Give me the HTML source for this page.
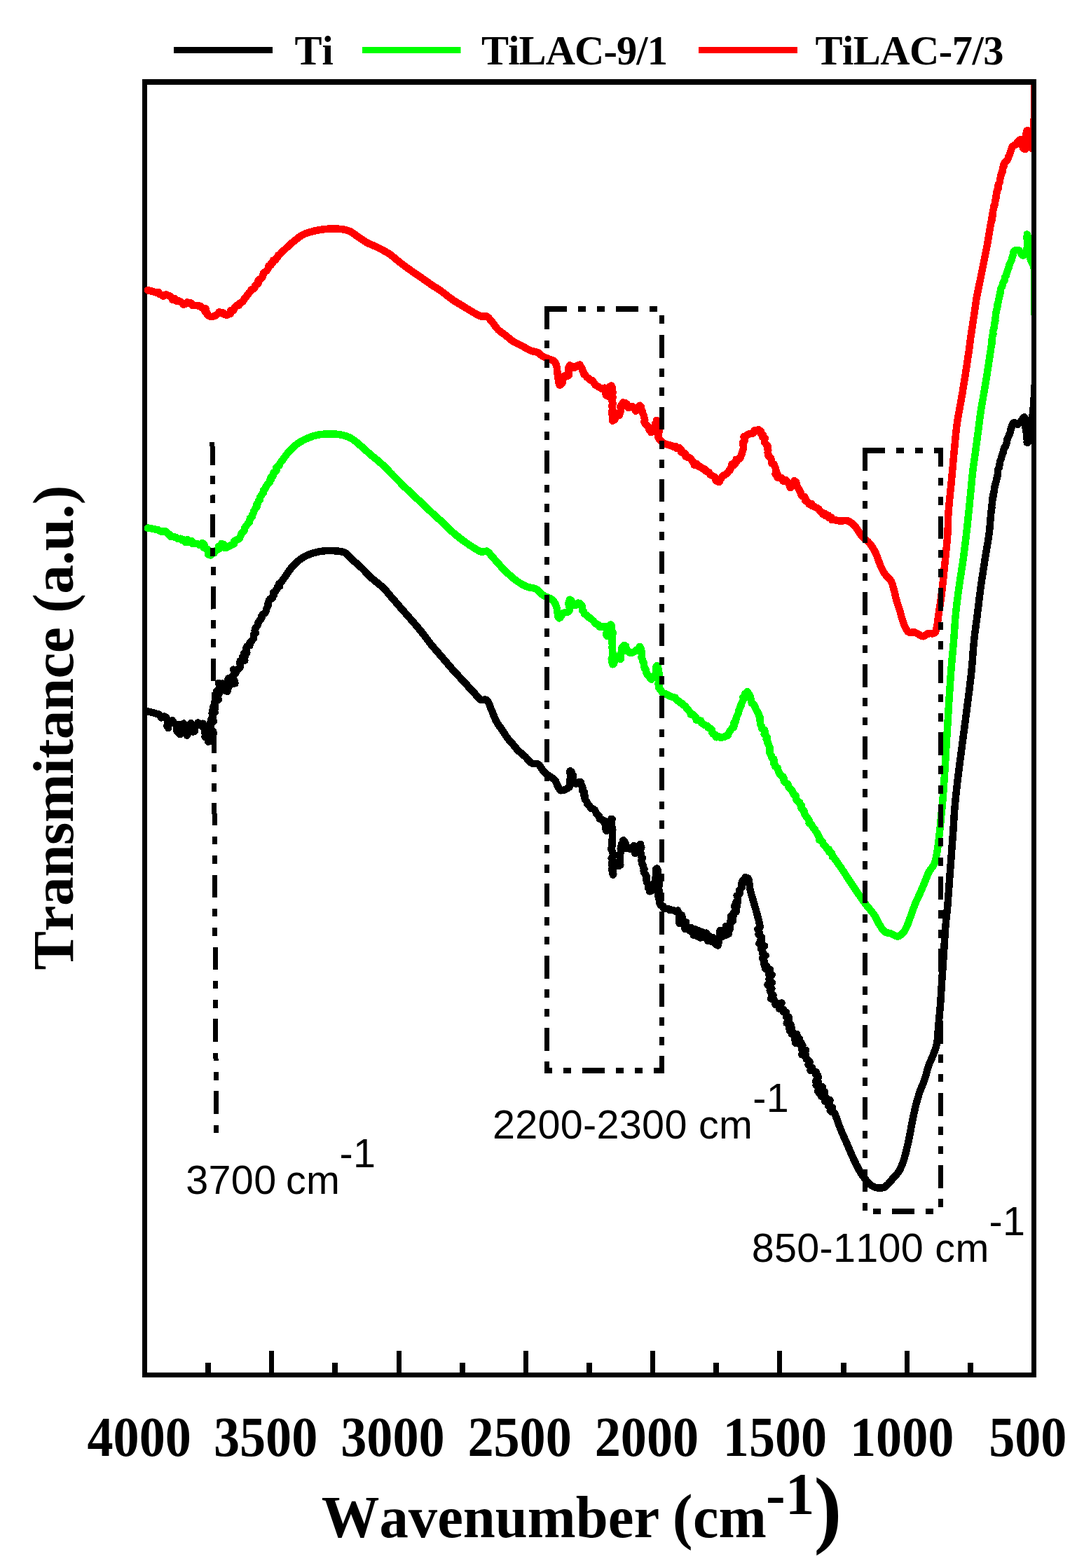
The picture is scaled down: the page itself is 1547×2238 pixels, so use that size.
<!DOCTYPE html>
<html lang="en"><head><meta charset="utf-8"><title>FTIR spectra</title>
<style>
html,body{margin:0;padding:0;background:#fff;}
body{width:1547px;height:2238px;overflow:hidden;}
svg{display:block;}
.serif{font-family:"Liberation Serif","DejaVu Serif",serif;font-weight:bold;fill:#000;font-kerning:none;}
.sans{font-family:"Liberation Sans","DejaVu Sans",sans-serif;fill:#000;font-kerning:none;}
.curve{fill:none;stroke-width:10.5;stroke-linejoin:round;stroke-linecap:round;shape-rendering:crispEdges;}
.dd{shape-rendering:crispEdges;fill:none;stroke:#000;stroke-width:7;stroke-linecap:square;stroke-linejoin:miter;stroke-dasharray:25.7 22.4 4.7 22.8 4.7 22.65;}
</style></head><body>
<svg width="1547" height="2238" viewBox="0 0 1547 2238">
<rect width="1547" height="2238" fill="#fff"/>
<defs><clipPath id="plot"><rect x="200" y="121" width="1279" height="1838"/></clipPath></defs>
<g>
<rect x="248" y="67" width="141" height="9" fill="#000"/>
<text class="serif" x="420.5" y="91.5" font-size="58.5">Ti</text>
<rect x="517" y="67" width="140.5" height="9" fill="#00ff00"/>
<text class="serif" x="687" y="91.5" font-size="58.5" textLength="266" lengthAdjust="spacing">TiLAC-9/1</text>
<rect x="997" y="67" width="141" height="9" fill="#ff0000"/>
<text class="serif" x="1163.5" y="91.5" font-size="58.5" textLength="269" lengthAdjust="spacing">TiLAC-7/3</text>
</g>
<g fill="#000" shape-rendering="crispEdges"><rect x="203" y="113" width="7" height="1853"/><rect x="203" y="1959" width="1276" height="7"/></g>
<g clip-path="url(#plot)">
<polyline class="curve" stroke="#000" points="210.8,1015.4 211.9,1015.6 214.5,1016.2 217.8,1017.0 220.7,1017.8 223.3,1018.7 226.1,1019.4 228.5,1021.1 230.2,1024.3 234.7,1022.5 237.5,1024.3 237.9,1026.7 240.8,1029.6 238.9,1033.2 238.5,1036.1 240.2,1039.1 240.0,1034.1 243.2,1031.9 245.8,1028.2 249.2,1033.0 252.1,1034.1 257.0,1034.9 251.9,1040.0 252.6,1043.7 255.2,1046.5 256.9,1048.2 255.8,1045.3 255.9,1042.1 260.1,1039.2 258.5,1034.8 262.1,1032.6 264.6,1035.3 267.0,1038.3 265.4,1042.9 266.5,1046.0 266.9,1049.7 268.2,1046.5 269.8,1044.1 269.8,1040.4 271.6,1037.3 271.3,1034.3 272.5,1031.9 270.6,1035.9 271.5,1038.4 273.5,1041.6 275.4,1044.4 277.6,1043.8 277.0,1043.1 278.1,1040.5 277.7,1036.4 282.9,1034.6 282.4,1031.4 285.5,1033.9 289.6,1032.7 288.1,1036.5 289.7,1038.0 295.7,1038.6 295.4,1041.9 291.9,1045.7 295.2,1047.9 292.4,1051.6 296.5,1054.3 298.9,1056.0 297.2,1058.7 300.3,1057.4 299.5,1052.1 298.8,1050.3 300.7,1048.6 305.0,1046.7 303.9,1043.8 300.0,1040.8 300.9,1037.9 300.1,1034.9 300.1,1032.0 305.0,1029.6 301.4,1026.6 304.2,1024.3 303.9,1021.5 302.8,1018.6 306.7,1016.7 303.5,1013.4 307.2,1011.5 304.4,1008.3 306.8,1006.1 306.0,1003.2 306.8,1000.6 311.7,998.6 311.1,995.7 308.4,992.5 312.5,990.6 308.8,987.3 310.5,985.3 314.3,982.7 313.9,979.1 311.8,974.9 314.8,978.2 317.9,975.5 318.9,978.9 317.2,983.7 321.0,984.7 324.5,986.9 322.1,986.2 322.6,984.2 325.9,981.2 323.9,977.4 326.3,973.9 325.1,970.5 325.9,968.3 325.7,970.2 327.9,968.9 328.8,972.7 328.6,977.2 332.7,975.8 330.4,976.2 335.4,975.4 335.1,972.5 331.7,969.0 331.5,965.5 335.3,962.3 337.0,959.4 333.0,955.7 337.5,956.8 339.8,955.4 342.6,952.5 343.1,949.8 342.2,946.6 342.7,943.7 349.3,942.6 345.8,938.3 349.6,936.8 347.9,933.1 352.3,931.8 352.0,928.7 351.4,925.4 352.4,922.3 356.3,921.3 356.3,917.8 358.3,915.3 360.2,913.5 361.9,911.2 362.1,908.4 362.1,905.3 364.8,903.2 363.7,899.8 364.2,897.0 366.1,894.6 367.8,892.2 368.1,889.1 369.7,886.8 371.5,884.5 373.4,882.2 373.5,879.0 375.4,876.7 378.1,874.8 379.7,872.3 380.1,869.3 381.5,866.8 382.5,864.0 382.6,860.8 383.6,858.0 384.8,855.4 388.5,854.1 389.2,851.3 391.2,849.4 390.0,845.9 392.8,844.7 393.7,842.3 395.7,840.6 396.0,837.7 399.1,836.7 398.3,833.0 400.8,831.6 402.3,829.4 403.9,827.3 405.4,825.1 406.9,823.0 408.3,820.9 409.8,818.8 411.2,816.7 412.6,814.7 414.1,812.7 415.6,810.7 417.2,808.8 419.2,806.7 421.3,804.6 423.4,802.5 425.6,800.6 427.8,798.8 430.1,797.2 432.6,795.6 435.1,794.2 437.7,792.9 440.4,791.8 443.1,790.7 445.6,789.8 448.1,789.1 450.7,788.4 453.3,787.8 456.0,787.2 458.6,786.8 461.2,786.5 463.7,786.2 466.3,786.1 468.8,786.0 471.4,786.0 474.1,786.1 476.7,786.2 479.4,786.4 482.1,786.6 484.8,786.9 487.5,787.4 490.0,788.0 492.2,788.9 494.6,790.4 496.6,792.2 498.5,794.3 500.4,796.4 502.5,798.5 504.6,800.4 506.7,802.2 508.9,804.1 511.0,806.0 513.3,808.0 515.5,810.1 517.4,811.9 519.3,813.8 521.2,815.8 523.1,817.8 525.1,819.8 527.1,821.8 529.0,823.7 531.0,825.6 532.9,827.3 534.9,828.9 536.8,830.5 538.8,832.0 540.7,833.6 542.7,835.2 544.6,836.8 546.5,838.6 548.3,840.4 550.0,842.2 551.7,844.1 553.4,846.1 555.1,848.1 556.8,850.1 558.5,852.1 560.2,854.2 562.0,856.2 563.8,858.2 565.5,860.2 567.3,862.2 569.1,864.3 570.9,866.4 572.7,868.5 574.6,870.5 576.4,872.7 578.3,874.8 580.1,876.9 581.7,878.8 583.4,880.7 585.1,882.6 586.8,884.5 588.5,886.5 590.2,888.4 591.9,890.4 593.6,892.3 595.2,894.3 596.8,896.2 598.4,898.1 600.0,900.0 601.7,902.1 603.3,904.1 604.8,906.1 606.4,908.2 607.9,910.2 609.4,912.2 610.9,914.2 612.4,916.2 613.9,918.2 615.5,920.1 617.2,922.2 618.9,924.2 620.6,926.2 622.4,928.2 624.1,930.2 625.8,932.2 627.5,934.2 629.3,936.2 631.0,938.2 632.7,940.2 634.4,942.2 636.2,944.3 637.9,946.3 639.6,948.3 641.3,950.3 643.0,952.3 644.8,954.3 646.5,956.3 648.2,958.2 649.9,960.1 651.7,962.0 653.4,963.8 655.2,965.7 656.9,967.5 658.6,969.4 660.4,971.2 662.1,973.1 663.8,975.0 665.6,976.9 667.4,978.9 669.2,980.9 671.0,982.8 672.7,984.7 674.4,986.5 676.1,988.3 677.6,989.9 679.5,992.1 681.3,994.2 683.0,996.2 684.8,997.8 686.6,998.9 689.2,999.1 692.0,998.5 694.4,998.9 696.0,1000.5 697.3,1002.9 698.5,1005.8 699.6,1008.9 700.8,1011.9 701.9,1014.4 703.0,1017.0 704.0,1019.7 705.1,1022.4 706.2,1025.1 707.4,1027.6 708.6,1030.0 710.1,1032.5 711.6,1034.9 713.2,1037.1 714.8,1039.3 716.4,1041.6 717.9,1043.9 719.5,1046.3 721.0,1048.7 722.5,1051.0 724.1,1053.2 726.0,1055.6 728.0,1057.9 729.9,1060.1 731.9,1062.3 733.8,1064.6 735.6,1066.8 737.5,1069.1 739.6,1071.3 741.6,1073.2 743.7,1075.0 745.8,1076.8 748.0,1078.6 750.0,1080.4 751.8,1082.3 753.6,1084.4 755.3,1086.4 757.1,1088.1 759.0,1089.4 762.0,1090.0 765.2,1090.0 768.1,1090.7 769.8,1092.2 771.4,1094.3 772.8,1096.7 774.2,1099.1 775.8,1101.1 777.7,1102.9 779.6,1104.5 781.6,1106.0 783.6,1107.5 786.3,1109.2 788.9,1110.7 791.3,1112.7 792.9,1115.0 794.1,1117.8 795.3,1120.6 796.5,1123.0 798.3,1126.2 800.4,1128.3 803.8,1128.0 807.3,1126.5 810.0,1125.2 812.4,1123.3 813.4,1121.4 814.1,1118.7 812.8,1115.3 813.7,1111.8 814.2,1108.3 814.1,1105.0 813.0,1102.3 814.1,1100.5 813.4,1100.5 815.3,1101.5 816.9,1105.1 818.1,1107.4 817.8,1110.6 818.0,1113.8 819.8,1116.0 819.7,1118.2 822.6,1118.6 825.4,1116.7 827.4,1115.9 829.0,1116.5 829.2,1119.1 830.4,1121.8 831.5,1124.9 831.2,1128.3 833.8,1130.5 832.8,1133.9 835.2,1136.4 834.4,1139.5 835.6,1142.1 837.5,1144.1 838.1,1147.1 840.3,1149.0 841.9,1151.3 843.2,1153.9 846.4,1154.5 848.8,1156.0 850.2,1158.6 851.1,1161.4 853.7,1163.2 855.3,1165.4 855.7,1168.7 859.5,1170.1 862.8,1171.7 862.6,1174.6 864.5,1177.9 863.8,1181.6 865.3,1184.3 865.3,1185.8 869.8,1184.0 871.2,1181.2 872.0,1177.4 871.3,1173.3 872.3,1170.4 872.2,1168.9 873.7,1169.2 873.0,1170.4 872.3,1171.9 872.4,1173.7 872.8,1175.9 872.2,1178.5 874.0,1181.3 874.3,1184.3 873.6,1187.5 874.1,1190.8 874.2,1194.2 873.7,1197.5 873.2,1200.7 873.5,1203.8 874.0,1206.7 872.7,1209.3 872.4,1212.1 873.8,1215.1 874.8,1218.3 874.9,1221.7 872.7,1225.1 874.8,1228.6 873.1,1231.9 873.4,1235.1 874.1,1238.1 872.9,1240.9 875.0,1243.2 874.8,1245.2 874.1,1246.8 875.3,1247.4 875.0,1248.7 874.2,1246.9 874.4,1244.2 874.7,1240.6 876.8,1237.2 877.2,1234.1 878.3,1232.9 880.7,1234.2 883.3,1235.9 885.3,1234.6 885.1,1232.3 884.2,1229.6 885.1,1226.7 884.5,1223.4 884.2,1220.1 885.6,1217.1 886.6,1214.6 885.7,1211.3 886.5,1207.9 887.3,1204.6 888.8,1201.9 889.1,1199.8 889.8,1199.2 890.4,1200.4 892.4,1203.0 892.7,1207.1 893.9,1210.7 896.6,1210.8 899.5,1212.0 902.1,1209.3 904.5,1207.1 905.4,1210.6 905.5,1214.9 906.3,1218.0 907.6,1215.5 909.4,1212.5 911.6,1208.9 912.8,1205.7 913.5,1205.2 913.9,1204.8 913.9,1206.8 915.3,1209.3 914.2,1212.6 914.2,1216.0 915.0,1219.3 915.1,1222.3 916.9,1224.6 915.5,1227.5 915.8,1230.2 916.3,1232.9 917.9,1235.3 917.8,1238.1 919.5,1240.4 918.6,1243.1 919.3,1245.8 921.2,1248.2 922.5,1250.6 922.2,1253.3 922.6,1255.9 922.8,1258.6 924.3,1261.1 926.3,1263.9 925.3,1267.6 928.0,1269.6 927.2,1272.3 928.7,1271.7 929.2,1271.7 931.2,1270.3 930.5,1267.1 931.3,1264.1 933.1,1261.2 934.4,1258.5 935.3,1255.8 935.6,1252.4 936.8,1249.1 936.2,1245.6 937.9,1243.1 936.2,1240.6 937.6,1239.6 938.0,1240.9 939.0,1242.4 938.3,1245.0 938.8,1247.9 939.4,1251.2 938.9,1254.7 939.9,1258.0 940.8,1261.0 940.7,1263.5 939.6,1266.2 939.4,1269.0 941.1,1271.9 939.4,1274.8 939.0,1277.7 940.2,1280.5 940.2,1283.1 941.4,1285.4 940.9,1287.6 941.6,1289.4 943.1,1292.4 946.3,1293.3 947.5,1297.0 950.4,1296.9 953.1,1297.1 955.5,1298.9 958.3,1298.7 961.1,1299.2 963.6,1300.7 967.1,1299.6 968.7,1303.2 969.4,1317.7 973.0,1306.3 975.0,1316.6 974.3,1312.6 976.6,1320.8 978.9,1316.1 977.6,1325.8 979.8,1321.3 983.9,1328.3 986.6,1324.1 989.7,1334.5 992.7,1326.5 995.2,1336.5 997.3,1328.5 999.7,1338.7 1002.5,1330.3 1005.0,1337.9 1008.0,1331.7 1010.0,1342.8 1012.3,1335.8 1014.7,1343.4 1018.1,1338.5 1021.2,1347.7 1024.1,1339.4 1024.6,1349.5 1027.7,1334.5 1026.1,1341.5 1027.6,1327.8 1031.1,1336.7 1033.8,1327.0 1035.8,1334.8 1036.1,1321.8 1039.5,1333.1 1041.7,1318.9 1041.5,1326.6 1042.6,1313.7 1042.7,1316.0 1043.4,1307.2 1045.8,1314.7 1046.7,1302.8 1046.2,1306.9 1049.3,1299.2 1050.4,1301.6 1048.2,1293.1 1050.3,1300.7 1050.6,1287.2 1052.0,1292.9 1053.0,1281.4 1051.7,1278.3 1054.8,1276.7 1056.2,1274.1 1055.0,1270.7 1056.9,1268.6 1058.8,1266.5 1058.5,1263.3 1058.6,1260.2 1059.5,1257.3 1061.8,1255.8 1063.6,1252.1 1067.0,1253.2 1067.9,1254.3 1068.6,1256.3 1069.1,1258.9 1069.5,1262.0 1069.9,1265.3 1070.3,1268.5 1070.9,1271.3 1071.6,1273.9 1072.3,1276.5 1073.0,1279.1 1073.8,1281.7 1074.6,1284.2 1075.4,1286.8 1076.1,1289.4 1076.8,1292.0 1077.6,1294.6 1078.4,1297.1 1079.1,1299.7 1079.8,1302.3 1080.5,1304.9 1081.2,1307.5 1081.8,1310.1 1082.5,1312.7 1083.1,1315.3 1083.7,1317.9 1084.2,1320.5 1084.7,1323.1 1081.5,1326.1 1082.7,1328.5 1083.7,1330.8 1082.5,1333.4 1084.7,1335.7 1087.0,1338.0 1085.6,1340.9 1087.0,1343.2 1083.3,1346.8 1085.6,1349.0 1091.2,1350.3 1086.1,1354.4 1088.2,1356.6 1088.5,1359.3 1088.5,1361.7 1092.6,1363.8 1088.4,1366.9 1088.8,1369.5 1090.7,1372.0 1090.4,1374.7 1090.7,1377.4 1094.4,1379.3 1092.2,1382.7 1098.8,1383.6 1097.2,1386.8 1096.9,1389.7 1101.7,1391.1 1099.5,1394.6 1097.5,1397.8 1098.1,1400.3 1101.9,1402.6 1095.5,1405.7 1098.2,1408.2 1101.4,1410.7 1098.8,1413.6 1100.1,1416.1 1101.1,1418.4 1103.4,1420.2 1100.0,1425.5 1104.3,1426.0 1105.6,1428.5 1106.8,1430.9 1106.6,1434.1 1115.5,1431.6 1112.2,1436.8 1112.4,1439.9 1117.6,1440.6 1117.6,1443.8 1121.8,1444.8 1121.9,1447.9 1121.9,1450.9 1125.5,1451.6 1125.9,1454.6 1122.7,1460.4 1126.9,1460.7 1128.6,1462.6 1125.9,1466.6 1130.2,1467.6 1127.1,1471.1 1130.9,1472.8 1130.0,1475.9 1137.3,1476.2 1133.9,1480.3 1133.9,1483.3 1140.8,1482.1 1135.3,1488.6 1142.7,1487.1 1141.7,1490.8 1145.4,1491.7 1144.1,1495.7 1144.5,1498.8 1150.3,1499.1 1144.3,1505.3 1149.9,1505.8 1150.3,1508.9 1150.8,1511.7 1153.9,1513.4 1155.7,1515.8 1153.6,1519.7 1155.5,1522.0 1159.0,1523.6 1156.5,1527.7 1161.3,1528.7 1164.8,1530.1 1164.2,1533.6 1167.2,1535.3 1167.6,1538.4 1163.9,1543.4 1168.0,1544.5 1164.8,1548.9 1167.1,1551.1 1174.1,1551.4 1167.2,1557.4 1168.8,1559.9 1177.2,1558.5 1172.3,1565.1 1177.6,1564.7 1179.1,1567.2 1177.4,1572.2 1184.4,1570.2 1183.9,1574.1 1181.8,1578.2 1184.7,1579.5 1188.0,1580.9 1184.7,1585.2 1187.1,1587.0 1190.8,1588.4 1191.9,1591.0 1192.9,1593.5 1193.9,1596.0 1194.8,1598.6 1195.7,1601.2 1196.7,1603.9 1197.6,1606.5 1198.6,1609.1 1199.6,1611.7 1200.6,1614.0 1201.5,1616.3 1202.5,1618.6 1203.6,1620.9 1204.6,1623.2 1205.6,1625.5 1206.7,1627.8 1207.7,1630.1 1208.7,1632.4 1209.7,1634.7 1210.7,1637.0 1211.7,1639.4 1212.7,1641.7 1213.7,1644.0 1214.7,1646.3 1215.7,1648.6 1216.7,1650.9 1217.7,1653.1 1218.8,1655.5 1219.9,1657.8 1221.0,1660.2 1222.1,1662.5 1223.3,1664.7 1224.4,1667.0 1225.6,1669.1 1226.8,1671.2 1228.2,1673.6 1229.7,1675.9 1231.2,1678.1 1232.7,1680.2 1234.3,1682.2 1235.8,1684.1 1237.7,1686.3 1239.6,1688.4 1241.6,1690.3 1243.6,1691.9 1246.1,1693.4 1248.6,1694.5 1251.3,1695.2 1254.3,1695.6 1257.5,1695.7 1260.4,1695.2 1262.7,1694.1 1264.8,1692.5 1266.9,1690.6 1268.8,1688.6 1270.8,1686.3 1272.7,1683.9 1274.6,1681.5 1276.6,1679.3 1278.7,1677.1 1280.6,1674.9 1282.4,1672.5 1283.9,1670.1 1285.2,1667.6 1286.3,1664.9 1287.5,1662.1 1288.3,1660.0 1289.1,1657.7 1289.8,1655.4 1290.6,1652.9 1291.3,1650.4 1292.0,1647.9 1292.7,1645.3 1293.3,1642.9 1293.9,1640.4 1294.5,1637.8 1295.1,1635.2 1295.7,1632.5 1296.3,1629.9 1296.8,1627.2 1297.4,1624.6 1297.9,1622.1 1298.4,1619.5 1298.9,1616.9 1299.4,1614.3 1299.9,1611.8 1300.3,1609.2 1300.8,1606.6 1301.3,1604.0 1301.8,1601.4 1302.3,1598.9 1302.9,1596.3 1303.4,1593.6 1304.0,1591.0 1304.5,1588.3 1305.1,1585.7 1305.7,1583.1 1306.3,1580.6 1306.9,1578.1 1307.6,1575.4 1308.3,1572.8 1309.0,1570.2 1309.7,1567.7 1310.5,1565.2 1311.2,1562.6 1312.1,1560.0 1313.0,1557.5 1313.9,1555.0 1315.0,1552.4 1316.0,1549.9 1317.1,1547.4 1318.1,1544.8 1319.0,1542.3 1319.9,1539.8 1320.7,1537.2 1321.5,1534.5 1322.1,1531.9 1322.8,1529.3 1323.5,1526.7 1324.2,1524.2 1325.0,1521.7 1326.0,1519.0 1327.1,1516.4 1328.2,1513.9 1329.4,1511.3 1330.5,1508.8 1331.5,1506.2 1332.5,1503.7 1333.4,1501.2 1334.4,1498.7 1335.2,1496.2 1336.0,1493.5 1336.7,1490.7 1337.1,1488.4 1337.5,1486.0 1337.8,1483.5 1338.0,1480.9 1338.2,1478.3 1338.4,1475.6 1338.6,1472.9 1338.8,1470.2 1339.0,1467.5 1339.2,1464.8 1339.4,1462.3 1339.7,1459.8 1339.9,1457.3 1340.2,1454.8 1340.4,1452.2 1340.6,1449.7 1340.9,1447.1 1341.1,1444.5 1341.3,1441.9 1341.6,1439.2 1341.8,1436.4 1342.0,1434.0 1342.2,1431.5 1342.4,1429.0 1342.5,1426.5 1342.7,1423.9 1342.9,1421.3 1343.0,1418.7 1343.2,1416.1 1343.4,1413.4 1343.6,1410.8 1343.7,1408.1 1343.9,1405.5 1344.1,1402.8 1344.2,1400.2 1344.4,1397.6 1344.6,1395.0 1344.7,1392.4 1344.9,1389.8 1345.1,1387.3 1345.3,1384.7 1345.4,1382.1 1345.6,1379.5 1345.8,1376.9 1346.0,1374.3 1346.1,1371.7 1346.3,1369.1 1346.5,1366.6 1346.7,1364.0 1346.8,1361.4 1347.0,1358.8 1347.2,1356.2 1347.3,1353.6 1347.5,1350.9 1347.7,1348.2 1347.8,1345.5 1348.0,1342.9 1348.2,1340.2 1348.3,1337.5 1348.5,1334.9 1348.7,1332.3 1348.9,1329.7 1349.0,1327.2 1349.2,1324.7 1349.4,1322.3 1349.6,1320.0 1349.8,1317.3 1350.1,1314.8 1350.3,1312.4 1350.6,1310.1 1350.8,1307.8 1351.1,1305.4 1351.3,1303.1 1351.6,1300.6 1351.8,1297.9 1352.1,1295.1 1352.3,1292.9 1352.5,1290.7 1352.7,1288.4 1352.9,1286.0 1353.0,1283.5 1353.2,1281.0 1353.4,1278.4 1353.6,1275.8 1353.8,1273.1 1354.0,1270.4 1354.2,1267.7 1354.4,1265.0 1354.6,1262.2 1354.8,1259.5 1355.0,1256.8 1355.2,1254.0 1355.4,1251.3 1355.6,1248.7 1355.8,1246.0 1356.0,1243.4 1356.2,1240.8 1356.4,1238.2 1356.6,1235.6 1356.8,1233.1 1357.0,1230.5 1357.2,1227.9 1357.4,1225.3 1357.6,1222.7 1357.8,1220.1 1358.0,1217.6 1358.2,1215.0 1358.3,1212.4 1358.5,1209.8 1358.7,1207.2 1358.9,1204.6 1359.1,1202.0 1359.3,1199.5 1359.5,1196.9 1359.7,1194.3 1359.9,1191.7 1360.1,1189.2 1360.3,1186.7 1360.4,1184.2 1360.6,1181.9 1360.7,1179.5 1360.9,1177.2 1361.0,1174.8 1361.2,1172.5 1361.3,1170.2 1361.4,1167.8 1361.6,1165.4 1361.8,1162.9 1362.0,1160.4 1362.1,1157.8 1362.3,1155.1 1362.6,1152.3 1362.8,1149.4 1363.1,1146.4 1363.4,1143.3 1363.7,1140.0 1363.9,1138.2 1364.1,1136.4 1364.3,1134.5 1364.5,1132.5 1364.7,1130.5 1364.9,1128.4 1365.2,1126.3 1365.4,1124.1 1365.7,1121.9 1366.0,1119.6 1366.2,1117.3 1366.5,1114.9 1366.8,1112.5 1367.1,1110.0 1367.4,1107.5 1367.7,1105.0 1368.1,1102.4 1368.4,1099.8 1368.7,1097.2 1369.1,1094.5 1369.4,1091.8 1369.7,1089.1 1370.1,1086.4 1370.4,1083.6 1370.8,1080.8 1371.2,1078.0 1371.5,1075.2 1371.9,1072.3 1372.3,1069.5 1372.7,1066.6 1373.0,1063.7 1373.4,1060.9 1373.8,1058.0 1374.2,1055.1 1374.6,1052.2 1374.9,1049.3 1375.3,1046.4 1375.7,1043.5 1376.1,1040.6 1376.5,1037.7 1376.8,1034.9 1377.2,1032.0 1377.6,1029.1 1378.0,1026.3 1378.3,1023.5 1378.7,1020.7 1379.1,1017.9 1379.4,1015.1 1379.8,1012.4 1380.1,1009.7 1380.5,1007.0 1380.8,1004.3 1381.2,1001.7 1381.5,999.1 1381.8,996.5 1382.1,994.0 1382.5,991.5 1382.8,989.1 1383.1,986.7 1383.4,984.3 1383.7,982.0 1383.9,979.7 1384.2,977.5 1384.5,975.3 1384.7,973.2 1385.0,971.1 1385.2,969.1 1385.4,967.2 1385.6,965.3 1385.8,963.5 1386.0,961.7 1386.2,960.0 1386.5,956.8 1386.8,953.7 1387.1,950.8 1387.3,948.0 1387.6,945.3 1387.8,942.7 1388.0,940.2 1388.1,937.8 1388.3,935.5 1388.5,933.2 1388.6,930.9 1388.8,928.7 1389.0,926.5 1389.1,924.3 1389.3,922.0 1389.5,919.8 1389.8,917.5 1390.0,915.1 1390.3,912.4 1390.6,909.8 1390.9,907.2 1391.2,904.6 1391.5,902.0 1391.9,899.4 1392.2,896.8 1392.5,894.3 1392.9,891.7 1393.2,889.2 1393.6,886.6 1393.9,884.1 1394.2,881.5 1394.6,879.0 1394.9,876.4 1395.2,873.8 1395.5,871.2 1395.8,868.6 1396.2,866.1 1396.5,863.5 1396.8,860.9 1397.1,858.3 1397.4,855.7 1397.7,853.1 1398.0,850.5 1398.3,847.9 1398.7,845.4 1399.0,842.8 1399.3,840.2 1399.7,837.6 1400.1,835.0 1400.4,832.4 1400.8,829.8 1401.2,827.2 1401.6,824.7 1402.0,822.1 1402.4,819.5 1402.8,816.9 1403.2,814.3 1403.6,811.7 1404.0,809.1 1404.4,806.6 1404.8,804.0 1405.2,801.4 1405.6,798.8 1406.0,796.2 1406.4,793.6 1406.9,790.9 1407.3,788.3 1407.8,785.6 1408.2,783.0 1408.7,780.3 1409.1,777.7 1409.6,775.0 1410.0,772.4 1410.4,769.9 1410.8,767.3 1411.1,764.8 1411.5,762.4 1411.8,760.0 1412.1,757.1 1412.4,754.3 1412.7,751.5 1412.9,748.8 1413.1,746.1 1413.3,743.5 1413.5,740.8 1413.8,738.1 1414.0,735.4 1414.3,732.7 1414.6,730.1 1414.9,727.4 1415.4,724.7 1415.1,721.9 1416.1,719.2 1416.2,716.5 1416.3,713.7 1416.5,711.1 1417.5,708.5 1417.4,706.0 1418.1,703.6 1418.9,700.7 1419.2,697.8 1419.5,694.9 1420.4,692.3 1420.8,689.6 1421.8,687.0 1422.0,684.2 1423.1,681.5 1423.6,678.7 1423.9,675.9 1423.8,673.0 1424.2,670.2 1425.7,667.6 1426.2,664.9 1426.7,662.3 1427.0,659.6 1427.6,657.1 1428.8,654.7 1429.4,652.2 1430.2,649.8 1431.0,647.4 1432.0,644.7 1432.3,641.7 1433.4,639.0 1435.2,636.7 1436.1,634.0 1437.0,631.2 1437.1,628.1 1438.1,625.4 1439.3,622.8 1440.4,620.2 1441.6,617.2 1442.0,613.9 1443.4,611.2 1443.8,608.4 1445.2,604.8 1447.3,603.0 1449.5,604.2 1452.1,605.9 1454.0,604.6 1456.1,602.8 1457.6,600.6 1459.9,597.1 1461.9,595.3 1462.1,596.2 1463.4,598.4 1463.6,601.6 1463.0,605.3 1463.6,608.6 1463.7,611.2 1464.7,614.2 1464.7,617.6 1465.3,621.1 1464.9,624.4 1465.8,627.3 1465.8,629.8 1465.7,631.5 1466.6,631.7 1466.9,631.4 1467.3,629.9 1467.7,627.6 1467.3,624.7 1467.3,621.4 1467.2,617.7 1468.3,614.1 1467.6,610.4 1467.8,607.0 1468.8,604.1 1469.1,601.6 1469.8,600.1 1472.5,597.0 1472.9,595.7 1473.4,593.8 1473.8,591.5 1474.1,588.7 1474.4,585.7 1474.7,582.4 1475.0,578.9 1475.3,575.3 1475.5,571.7 1475.7,568.2 1475.9,564.8 1476.0,561.6 1476.1,558.7 1476.2,556.1 1476.3,554.0 1476.4,552.4 1476.4,551.4 1476.4,551.0"/>
<polyline class="curve" stroke="#00ff00" points="210.8,753.6 211.9,753.7 214.4,754.1 217.7,754.7 220.7,755.3 223.2,755.9 226.0,756.5 228.4,758.1 231.0,759.0 234.3,757.8 237.4,758.8 239.1,761.7 241.8,762.7 243.5,765.8 246.3,766.1 249.1,766.5 251.6,767.2 254.0,769.1 257.6,768.7 259.6,771.1 262.2,770.3 264.5,773.8 267.5,770.2 269.4,773.9 273.7,772.1 275.5,776.1 279.1,775.8 282.0,776.3 285.0,778.0 288.7,775.0 291.5,777.1 291.2,782.0 294.4,783.0 297.9,785.5 296.8,791.0 300.3,792.5 303.1,789.0 305.4,789.3 306.7,786.5 309.3,785.0 312.0,783.8 311.9,780.2 315.3,779.5 316.3,775.8 319.6,777.4 320.9,781.9 324.0,781.3 326.5,779.7 329.5,778.2 332.0,777.2 334.1,776.1 333.8,772.8 337.9,770.5 340.1,769.6 342.0,767.9 343.3,764.9 344.3,761.9 345.9,760.2 347.9,758.6 349.2,756.4 349.3,753.5 350.8,751.3 352.3,749.2 353.9,747.1 355.9,745.1 356.5,742.4 356.8,739.5 359.7,737.9 360.1,735.0 361.5,732.8 362.0,730.1 363.5,727.9 364.5,725.4 366.5,723.4 366.1,720.3 368.2,718.4 368.7,715.3 371.1,713.3 370.9,710.0 372.7,707.6 374.2,705.2 376.1,703.0 376.1,699.9 378.2,698.0 379.0,695.4 380.4,693.2 382.2,691.0 384.6,689.1 384.8,686.4 387.0,684.7 386.6,681.5 389.5,680.1 389.6,677.1 390.6,674.6 393.1,673.0 394.7,671.0 394.3,667.6 396.3,665.6 398.8,664.0 399.5,661.2 401.3,659.2 402.8,657.1 404.3,655.0 406.0,652.7 407.7,650.5 409.3,648.3 411.1,646.1 412.8,644.1 414.6,642.1 416.6,640.1 418.6,638.2 420.6,636.4 422.8,634.6 425.0,633.0 427.4,631.4 430.0,629.9 432.6,628.5 435.3,627.2 437.9,626.0 440.4,624.9 443.0,623.9 445.6,622.9 448.2,622.1 450.8,621.4 453.3,620.8 455.9,620.4 458.4,620.1 461.0,619.8 463.7,619.6 466.2,619.5 468.8,619.4 471.4,619.3 474.1,619.3 476.7,619.4 479.2,619.6 481.9,619.9 484.6,620.2 487.2,620.7 489.7,621.2 492.2,621.9 494.9,622.8 497.4,623.8 499.9,625.0 502.5,626.5 504.6,627.9 506.8,629.5 509.0,631.3 511.2,633.2 513.3,635.1 515.5,636.9 517.7,638.8 519.8,640.7 521.9,642.6 524.0,644.6 526.2,646.5 528.4,648.5 530.3,650.1 532.1,651.6 534.1,653.2 536.0,654.7 538.0,656.3 539.9,658.0 541.9,659.6 543.9,661.4 545.7,663.1 547.5,664.8 549.3,666.6 551.1,668.4 552.9,670.2 554.7,672.1 556.5,674.0 558.4,675.8 560.2,677.7 562.0,679.5 563.8,681.3 565.6,683.1 567.4,684.9 569.2,686.7 571.0,688.5 572.8,690.4 574.6,692.2 576.4,694.0 578.2,695.8 580.1,697.6 582.1,699.5 584.0,701.4 586.1,703.3 588.1,705.2 590.1,707.1 592.2,709.0 594.2,710.9 596.2,712.7 598.1,714.5 600.0,716.3 602.0,718.2 604.0,720.1 606.0,722.0 607.9,723.8 609.8,725.6 611.7,727.4 613.6,729.2 615.5,731.0 617.4,732.8 619.4,734.6 621.3,736.3 623.3,738.1 625.2,739.9 627.1,741.6 629.1,743.4 631.0,745.2 632.9,747.0 634.9,748.9 636.8,750.8 638.7,752.7 640.6,754.6 642.6,756.4 644.5,758.2 646.5,760.0 648.7,761.9 650.9,763.7 653.1,765.5 655.3,767.3 657.6,769.0 659.8,770.7 662.1,772.4 664.3,774.0 666.6,775.6 668.9,777.1 671.1,778.7 673.4,780.1 675.5,781.5 677.6,782.7 680.3,784.4 683.0,786.0 685.5,787.2 687.9,787.9 691.2,787.1 694.4,786.6 696.2,787.6 698.0,789.3 699.8,791.4 701.6,793.6 703.4,795.7 705.1,797.5 706.8,799.4 708.5,801.4 710.2,803.3 712.0,805.3 713.8,807.3 715.5,809.1 717.3,811.0 719.2,812.9 721.0,814.8 722.9,816.7 724.8,818.5 726.7,820.2 728.8,822.1 730.9,823.9 733.1,825.7 735.2,827.4 737.4,829.1 739.6,830.6 742.1,832.2 744.7,833.8 747.3,835.2 749.9,836.5 752.6,837.6 755.2,838.4 757.9,838.9 760.5,839.3 763.1,839.9 765.5,840.9 767.7,842.4 769.7,844.3 771.6,846.3 773.6,848.3 775.8,850.0 778.4,851.4 781.2,852.6 784.0,853.6 786.6,854.9 788.8,856.4 790.5,858.4 791.8,860.5 792.9,862.9 793.9,865.5 794.7,868.3 795.2,871.8 795.7,875.4 796.2,878.7 796.8,881.2 797.8,882.3 799.7,881.2 801.6,878.0 803.8,875.0 807.4,874.0 810.8,873.4 812.4,871.4 812.9,868.4 812.2,864.9 811.4,861.4 812.1,858.3 813.2,856.2 813.2,855.7 814.4,856.4 816.6,859.0 817.9,862.5 819.8,864.2 822.5,863.5 824.9,860.7 827.4,861.1 828.2,862.0 830.3,864.1 831.0,867.3 830.9,870.8 833.0,873.0 833.8,875.9 836.3,877.3 838.1,879.4 840.3,881.3 842.8,882.4 844.8,884.4 847.0,886.3 848.6,888.6 850.6,890.3 853.9,891.6 855.7,894.7 858.6,895.1 862.0,893.9 865.0,893.8 864.9,896.0 865.9,899.1 865.8,902.7 865.2,905.7 866.2,907.7 867.4,905.9 867.7,902.8 869.0,899.1 870.5,895.5 871.2,892.6 871.5,891.4 872.4,891.9 872.8,893.9 872.6,896.8 873.3,900.0 874.7,903.4 873.7,906.9 873.5,909.1 873.7,911.7 873.6,914.5 873.5,917.7 874.0,921.0 873.5,924.4 874.1,927.8 874.4,931.3 873.9,934.5 873.9,937.6 872.7,940.4 873.2,943.0 873.6,945.0 873.6,946.7 874.7,947.5 874.5,948.3 876.0,947.0 877.0,943.4 878.4,939.6 880.5,937.7 883.4,939.0 885.7,940.8 885.7,939.1 885.8,936.7 886.2,933.6 886.8,930.2 887.0,927.3 887.3,925.1 889.3,922.8 890.9,920.9 893.1,922.2 893.8,925.8 895.5,929.2 897.6,930.9 900.2,932.2 903.4,931.0 906.1,929.7 908.6,927.6 911.6,925.4 912.8,922.8 914.0,924.4 914.8,926.3 915.4,928.9 915.4,931.9 916.1,935.1 915.4,938.4 916.7,941.0 917.0,943.5 918.7,945.8 918.9,948.5 919.4,951.1 919.9,953.8 921.8,955.8 922.3,958.2 922.6,960.5 924.2,963.5 926.8,965.8 928.0,968.4 929.7,969.7 931.4,968.0 933.6,965.8 935.1,962.8 936.4,960.2 936.2,956.7 936.8,953.4 936.6,950.8 937.3,950.2 938.8,951.3 939.5,955.0 940.0,956.7 940.2,958.9 940.5,961.5 940.3,964.2 939.7,967.2 940.2,970.1 940.6,973.1 939.3,976.0 940.5,978.5 939.9,981.0 941.1,982.8 943.2,985.2 944.9,987.8 947.4,989.5 950.3,990.5 952.8,992.0 955.5,993.2 958.1,994.4 961.0,995.2 963.6,995.8 965.1,998.5 966.9,1000.2 969.5,1001.1 971.0,1003.1 973.7,1004.0 975.0,1006.3 977.6,1007.5 979.0,1009.7 981.0,1011.9 982.9,1014.2 984.7,1016.5 985.8,1019.6 989.2,1020.0 991.1,1022.0 993.1,1024.0 993.8,1027.5 996.9,1028.1 1000.2,1028.5 1001.6,1032.2 1004.1,1033.8 1006.6,1035.3 1009.6,1036.0 1010.7,1038.7 1013.6,1039.7 1015.9,1041.4 1016.0,1045.3 1018.0,1047.7 1021.4,1048.8 1022.0,1052.3 1026.5,1051.6 1029.3,1053.2 1031.5,1052.1 1033.9,1051.7 1035.7,1050.4 1038.8,1049.8 1039.8,1046.7 1041.3,1044.2 1042.7,1042.0 1044.4,1039.8 1047.3,1037.9 1047.8,1034.8 1047.4,1031.4 1050.0,1029.8 1050.3,1027.2 1050.8,1024.7 1051.7,1022.2 1052.8,1019.9 1053.9,1017.6 1053.8,1015.1 1055.2,1012.8 1055.8,1010.2 1057.3,1008.2 1057.6,1005.6 1058.6,1003.3 1059.8,1000.8 1061.1,998.1 1060.4,994.9 1063.1,993.0 1062.8,990.5 1065.5,988.6 1066.7,987.2 1066.6,988.4 1068.3,989.9 1070.1,992.5 1071.2,995.5 1071.6,998.4 1072.2,1001.1 1072.9,1003.8 1076.0,1005.6 1077.2,1008.1 1078.1,1010.7 1079.4,1013.2 1080.8,1015.6 1082.3,1018.1 1083.0,1021.1 1084.6,1023.6 1083.9,1026.8 1085.0,1029.3 1084.8,1032.3 1085.6,1034.9 1087.1,1037.3 1087.3,1040.1 1091.1,1041.7 1091.6,1044.5 1090.6,1047.9 1092.9,1049.9 1094.7,1052.3 1093.7,1055.3 1095.4,1057.7 1095.6,1060.4 1096.9,1062.9 1097.8,1065.4 1099.0,1067.7 1098.3,1070.9 1098.4,1073.9 1099.3,1076.4 1101.1,1078.7 1101.6,1081.5 1104.2,1083.4 1105.2,1086.0 1104.0,1089.3 1105.8,1091.7 1106.5,1094.3 1109.5,1095.8 1110.2,1098.3 1111.0,1100.8 1112.0,1103.3 1113.4,1105.4 1115.1,1107.4 1117.6,1108.7 1118.8,1110.9 1118.7,1113.9 1119.7,1116.3 1122.3,1117.7 1124.4,1119.3 1124.8,1122.4 1126.6,1124.6 1128.6,1126.5 1130.5,1128.6 1131.6,1131.2 1132.6,1134.0 1135.5,1135.4 1136.0,1138.5 1136.5,1141.6 1138.4,1143.5 1141.1,1145.2 1141.8,1147.8 1143.9,1149.8 1143.3,1153.2 1144.8,1155.3 1147.3,1156.9 1147.5,1159.9 1148.7,1162.3 1150.1,1164.8 1152.0,1166.9 1153.6,1169.1 1154.9,1171.6 1154.7,1175.1 1158.0,1176.4 1159.1,1179.1 1160.7,1181.5 1163.0,1183.5 1163.8,1186.2 1165.8,1188.3 1166.9,1190.9 1168.2,1193.4 1169.7,1195.8 1169.6,1199.2 1172.9,1200.4 1174.3,1202.6 1175.1,1205.3 1177.3,1206.9 1178.7,1209.2 1180.0,1211.6 1183.1,1212.5 1183.2,1215.8 1186.3,1216.8 1187.6,1219.3 1187.8,1222.6 1190.2,1224.3 1191.8,1226.5 1193.5,1228.8 1195.1,1231.1 1196.7,1233.4 1198.3,1235.7 1199.8,1237.8 1201.2,1240.0 1202.6,1242.1 1204.1,1244.3 1205.5,1246.4 1206.9,1248.6 1208.3,1250.8 1209.8,1252.9 1211.2,1255.1 1212.6,1257.3 1214.1,1259.4 1215.5,1261.6 1216.9,1263.8 1218.3,1265.9 1219.8,1268.1 1221.2,1270.2 1222.7,1272.4 1224.1,1274.5 1225.7,1276.8 1227.3,1279.2 1229.0,1281.5 1230.6,1283.8 1232.2,1286.1 1233.8,1288.3 1235.4,1290.5 1237.0,1292.6 1238.8,1294.9 1240.6,1297.0 1242.4,1299.1 1244.2,1301.2 1245.8,1303.3 1247.4,1305.5 1248.8,1307.8 1250.1,1310.2 1251.3,1312.7 1252.5,1315.1 1253.8,1317.5 1255.1,1319.7 1256.6,1322.0 1258.0,1324.4 1259.5,1326.6 1261.1,1328.5 1262.9,1330.0 1265.7,1331.2 1268.8,1331.9 1271.9,1332.6 1275.0,1334.2 1278.1,1335.8 1281.0,1336.5 1283.8,1335.6 1286.4,1333.7 1288.8,1331.3 1290.3,1329.4 1291.7,1327.2 1292.9,1324.7 1294.1,1322.2 1295.2,1319.7 1296.2,1317.4 1297.1,1315.1 1297.9,1312.7 1298.7,1310.3 1299.6,1307.9 1300.4,1305.5 1301.3,1303.1 1302.1,1300.8 1302.9,1298.4 1303.8,1296.0 1304.7,1293.7 1305.6,1291.3 1306.6,1288.9 1307.6,1286.6 1308.7,1284.2 1309.8,1281.9 1310.9,1279.5 1312.0,1277.0 1313.1,1274.5 1314.2,1271.9 1315.3,1269.3 1316.5,1266.7 1317.6,1264.0 1318.7,1261.4 1319.8,1258.9 1320.9,1256.2 1322.0,1253.5 1323.0,1250.8 1324.0,1248.2 1325.1,1245.7 1326.3,1243.4 1327.9,1241.0 1329.6,1238.9 1331.3,1236.8 1332.7,1234.4 1333.7,1231.9 1334.6,1229.3 1335.3,1226.4 1335.9,1223.4 1336.6,1220.2 1337.0,1218.0 1337.4,1215.6 1337.8,1213.1 1338.2,1210.5 1338.6,1207.9 1338.9,1205.1 1339.2,1202.4 1339.6,1199.6 1339.9,1196.9 1340.2,1194.3 1340.5,1191.7 1340.8,1189.1 1341.1,1186.5 1341.4,1183.9 1341.6,1181.3 1341.9,1178.7 1342.1,1176.2 1342.4,1173.6 1342.6,1171.0 1342.8,1168.5 1343.1,1165.9 1343.3,1163.4 1343.6,1161.1 1343.8,1158.9 1344.1,1156.7 1344.3,1154.4 1344.5,1152.0 1344.8,1149.5 1345.0,1146.7 1345.3,1143.5 1345.6,1140.0 1345.7,1138.6 1345.8,1137.1 1345.9,1135.5 1346.1,1133.8 1346.2,1132.1 1346.3,1130.3 1346.5,1128.4 1346.6,1126.5 1346.7,1124.4 1346.9,1122.3 1347.0,1120.2 1347.2,1118.0 1347.3,1115.7 1347.5,1113.4 1347.6,1111.0 1347.8,1108.6 1347.9,1106.1 1348.1,1103.6 1348.3,1101.0 1348.4,1098.4 1348.6,1095.7 1348.7,1093.0 1348.9,1090.3 1349.1,1087.6 1349.3,1084.8 1349.4,1081.9 1349.6,1079.1 1349.8,1076.2 1350.0,1073.3 1350.1,1070.4 1350.3,1067.5 1350.5,1064.5 1350.7,1061.6 1350.9,1058.6 1351.0,1055.6 1351.2,1052.6 1351.4,1049.6 1351.6,1046.6 1351.8,1043.6 1351.9,1040.6 1352.1,1037.7 1352.3,1034.7 1352.5,1031.7 1352.7,1028.8 1352.8,1025.8 1353.0,1022.9 1353.2,1020.0 1353.4,1017.1 1353.5,1014.2 1353.7,1011.4 1353.9,1008.6 1354.1,1005.8 1354.2,1003.1 1354.4,1000.3 1354.6,997.7 1354.7,995.0 1354.9,992.4 1355.1,989.9 1355.2,987.4 1355.4,984.9 1355.5,982.5 1355.7,980.2 1355.8,977.9 1356.0,975.6 1356.1,973.4 1356.3,971.3 1356.4,969.2 1356.6,967.3 1356.7,965.3 1356.8,963.5 1357.0,961.7 1357.1,960.0 1357.3,956.8 1357.6,953.7 1357.8,950.7 1358.1,947.9 1358.3,945.3 1358.5,942.7 1358.7,940.2 1359.0,937.8 1359.2,935.5 1359.4,933.2 1359.6,930.9 1359.8,928.7 1360.0,926.5 1360.2,924.3 1360.4,922.0 1360.6,919.8 1360.8,917.5 1361.0,915.1 1361.2,912.4 1361.4,909.8 1361.6,907.2 1361.8,904.6 1361.9,902.0 1362.1,899.4 1362.3,896.8 1362.5,894.3 1362.6,891.7 1362.8,889.2 1363.0,886.6 1363.2,884.1 1363.4,881.5 1363.7,879.0 1363.9,876.4 1364.2,873.8 1364.4,871.2 1364.7,868.6 1365.0,866.0 1365.3,863.5 1365.6,860.9 1366.0,858.3 1366.3,855.7 1366.6,853.1 1367.0,850.5 1367.3,847.9 1367.6,845.4 1368.0,842.8 1368.3,840.2 1368.7,837.6 1369.1,835.0 1369.4,832.4 1369.8,829.8 1370.2,827.3 1370.6,824.7 1371.0,822.1 1371.4,819.5 1371.8,816.9 1372.2,814.3 1372.6,811.7 1373.0,809.1 1373.4,806.6 1373.8,804.0 1374.1,801.4 1374.5,798.8 1374.9,796.2 1375.2,793.6 1375.6,790.9 1375.9,788.3 1376.3,785.6 1376.6,783.0 1376.9,780.3 1377.3,777.7 1377.6,775.0 1377.9,772.4 1378.2,769.9 1378.5,767.3 1378.8,764.8 1379.1,762.4 1379.4,760.0 1379.7,757.1 1380.1,754.3 1380.4,751.5 1380.6,748.8 1380.9,746.1 1381.2,743.5 1381.5,740.8 1381.7,738.1 1382.0,735.4 1382.3,732.7 1382.6,730.1 1382.8,727.5 1383.1,724.8 1383.4,722.2 1383.6,719.5 1383.9,716.9 1384.1,714.2 1384.4,711.6 1384.7,708.9 1384.9,706.2 1385.2,703.6 1385.5,701.0 1385.7,698.3 1386.0,695.7 1386.2,693.0 1386.5,690.4 1386.7,687.7 1387.0,685.1 1387.2,682.4 1387.5,679.8 1387.8,677.1 1388.1,674.5 1388.4,671.9 1388.7,669.2 1389.1,666.6 1389.4,663.9 1389.8,661.3 1390.2,658.6 1390.5,656.0 1390.9,653.3 1391.3,650.7 1391.6,648.0 1392.0,645.4 1392.4,642.8 1392.7,640.1 1393.1,637.5 1393.4,634.9 1393.8,632.2 1394.1,629.6 1394.5,626.9 1394.8,624.3 1395.2,621.7 1395.5,619.0 1395.9,616.4 1396.2,613.8 1396.6,611.1 1396.9,608.5 1397.2,605.8 1397.6,603.2 1397.9,600.5 1398.2,597.9 1398.6,595.2 1398.9,592.6 1399.3,589.9 1399.7,587.3 1400.1,584.7 1400.5,582.0 1401.0,579.4 1401.4,576.7 1401.9,574.1 1402.3,571.4 1402.8,568.8 1403.2,566.1 1403.7,563.5 1404.2,560.8 1404.6,558.2 1405.0,555.6 1405.5,552.9 1405.9,550.3 1406.4,547.6 1406.8,545.0 1407.3,542.3 1407.7,539.7 1408.1,537.0 1408.6,534.4 1409.0,531.7 1409.4,529.1 1409.8,526.4 1410.2,523.7 1410.7,521.0 1411.1,518.2 1411.5,515.5 1411.9,512.7 1412.3,510.0 1412.7,507.4 1413.1,504.8 1413.5,502.4 1413.8,500.0 1414.2,497.3 1414.5,494.7 1414.9,492.2 1415.8,489.8 1415.7,487.4 1415.5,484.9 1416.1,482.4 1416.3,479.6 1417.4,477.0 1417.1,474.1 1417.5,471.3 1418.4,468.6 1418.8,465.8 1419.2,463.0 1419.5,460.2 1420.4,457.5 1420.2,454.7 1421.2,452.0 1421.0,449.1 1421.5,446.4 1421.8,443.6 1422.8,440.9 1423.3,438.0 1423.3,435.1 1424.2,432.4 1425.0,429.6 1425.3,426.9 1426.1,424.2 1426.6,421.5 1427.4,418.9 1427.5,416.3 1428.1,413.7 1428.5,411.1 1430.2,408.8 1431.0,406.2 1431.5,403.4 1433.1,401.1 1434.1,398.5 1434.3,395.6 1436.0,393.3 1436.5,390.4 1437.4,387.5 1438.3,384.7 1439.5,382.1 1440.0,379.4 1441.0,376.9 1442.1,374.5 1443.2,372.3 1443.9,369.8 1444.6,366.8 1445.9,363.6 1446.1,360.4 1447.3,358.3 1449.7,356.8 1452.0,356.9 1454.4,357.6 1456.3,360.0 1457.6,362.9 1459.9,364.6 1462.8,363.4 1464.7,360.2 1465.1,358.4 1465.2,355.8 1466.3,352.8 1466.1,349.4 1465.9,345.9 1466.0,342.6 1465.3,339.6 1465.6,337.2 1466.0,335.6 1465.8,334.5 1465.8,335.7 1466.7,337.4 1466.2,340.1 1466.6,343.3 1467.3,346.8 1467.9,350.3 1468.8,353.6 1468.6,356.4 1469.2,359.5 1469.5,362.6 1470.3,365.5 1470.3,368.4 1471.0,371.0 1472.3,373.9 1473.9,376.4 1475.2,380.0 1475.5,381.6 1475.7,383.5 1476.0,385.7 1476.1,388.2 1476.3,390.9 1476.4,393.9 1476.5,397.1 1476.5,400.4 1476.6,403.8 1476.6,407.3 1476.6,410.8 1476.6,414.4 1476.6,417.9 1476.5,421.4 1476.5,424.8 1476.4,428.1 1476.3,431.3 1476.3,434.2 1476.2,436.9 1476.1,439.4 1476.1,441.6 1476.0,443.4 1476.0,444.9 1475.9,446.1 1475.9,446.8 1475.9,447.0"/>
<polyline class="curve" stroke="#ff0000" points="210.8,414.2 211.7,414.4 213.9,415.0 217.0,415.8 220.3,416.7 223.3,417.6 226.2,417.2 228.1,420.1 230.7,420.9 233.0,422.6 236.8,420.3 239.4,421.5 242.2,422.4 244.7,424.1 246.0,427.9 250.1,426.5 251.7,429.7 254.8,429.2 257.2,430.5 259.6,431.9 261.7,434.6 264.5,434.0 267.5,431.4 269.9,433.0 272.5,432.4 275.2,436.1 277.7,435.9 280.0,436.1 283.1,436.6 286.0,436.8 287.9,438.9 289.8,439.8 293.7,440.7 292.5,444.9 295.6,446.6 296.0,449.6 299.2,451.5 302.2,452.2 304.7,451.4 307.9,450.1 310.7,447.9 312.8,445.4 317.2,447.0 318.5,446.3 320.0,448.8 323.8,449.7 326.1,448.4 328.8,447.8 328.9,443.4 333.0,443.4 334.3,440.7 335.5,437.9 337.6,436.3 340.8,435.9 341.8,433.0 344.6,431.8 346.6,430.4 347.8,428.2 348.9,425.9 351.2,424.5 352.3,422.1 353.9,420.0 355.5,417.9 357.4,416.2 358.5,413.6 361.3,412.5 363.6,410.8 364.1,407.8 366.4,406.2 368.5,404.4 368.2,400.9 369.9,399.0 372.9,397.7 374.5,395.5 375.4,393.0 375.8,390.1 377.8,388.3 380.2,386.7 381.8,384.6 383.1,382.5 383.4,379.6 386.4,378.6 387.0,375.9 389.3,374.5 389.9,371.6 393.1,371.2 394.1,368.7 396.1,367.0 397.0,364.1 399.6,363.0 401.3,361.0 403.1,359.2 405.0,357.4 406.9,355.6 409.0,353.6 411.2,351.6 413.3,349.6 415.4,347.7 417.6,345.8 419.8,344.0 421.9,342.3 424.0,340.7 426.1,339.1 428.2,337.6 430.4,336.2 432.7,334.9 435.1,333.8 437.7,332.8 440.3,331.9 442.9,331.1 445.6,330.4 448.2,329.7 450.8,329.1 453.5,328.6 456.1,328.1 458.7,327.7 461.3,327.4 463.7,327.1 466.4,326.8 468.9,326.6 471.4,326.4 474.1,326.4 476.5,326.4 479.2,326.5 481.9,326.6 484.6,326.8 487.2,327.0 489.6,327.4 492.4,328.0 494.9,328.6 497.4,329.4 499.9,330.5 502.0,331.6 504.1,333.0 506.1,334.5 508.2,336.0 510.3,337.5 512.3,338.9 514.4,340.3 516.5,341.8 518.6,343.2 520.9,344.6 523.2,346.0 525.6,347.3 528.2,348.4 530.8,349.6 533.5,350.7 536.2,351.9 538.8,353.1 541.3,354.3 543.6,355.5 545.9,356.7 548.2,358.0 550.4,359.3 552.6,360.6 554.7,361.9 556.8,363.3 559.0,364.9 561.2,366.6 563.3,368.4 565.4,370.1 567.5,371.9 569.7,373.7 571.8,375.3 574.0,377.0 576.3,378.7 578.5,380.4 580.8,382.1 583.1,383.7 585.3,385.3 587.4,386.8 589.5,388.2 591.6,389.7 593.7,391.1 595.8,392.5 597.9,393.9 600.0,395.4 602.2,396.9 604.4,398.5 606.6,400.0 608.8,401.6 611.1,403.1 613.3,404.7 615.5,406.2 617.7,407.7 619.9,409.1 622.2,410.6 624.4,412.0 626.6,413.5 628.8,415.0 631.0,416.5 633.2,418.1 635.4,419.8 637.6,421.5 639.8,423.3 642.0,425.0 644.3,426.6 646.5,428.2 648.7,429.7 650.9,431.0 653.1,432.4 655.3,433.7 657.6,435.0 659.8,436.4 662.0,437.7 664.3,439.1 666.6,440.5 668.9,441.9 671.2,443.4 673.4,444.7 675.6,446.0 677.6,447.1 680.0,448.5 682.2,449.7 684.4,450.8 686.6,451.5 689.3,451.5 691.9,451.2 694.4,451.5 696.4,452.8 698.3,454.7 700.2,456.9 702.1,459.2 703.9,461.4 705.6,463.8 707.4,466.3 709.3,468.7 711.2,470.8 713.2,472.5 715.2,474.1 717.3,475.6 719.4,477.1 721.5,478.6 723.6,480.3 725.6,482.0 727.6,483.7 729.7,485.4 731.9,486.9 734.3,488.4 736.9,489.7 739.5,491.0 742.2,492.3 744.8,493.6 747.4,495.0 750.0,496.6 752.6,498.1 755.2,499.5 757.7,500.6 760.3,501.4 763.0,501.9 765.5,502.5 767.8,503.3 770.0,504.9 772.0,506.7 774.2,508.4 777.1,509.8 780.2,511.1 783.3,512.3 786.1,513.3 788.8,514.2 791.0,515.6 792.5,517.6 793.5,520.0 794.3,522.7 794.8,524.9 795.1,527.5 795.4,530.2 795.6,533.0 795.9,535.7 796.2,538.2 796.7,541.7 797.2,545.4 797.9,548.4 798.8,549.8 802.1,547.3 803.0,544.9 803.2,541.7 804.5,539.0 805.1,536.6 808.2,536.6 810.8,536.4 812.2,535.2 811.4,532.2 811.6,528.8 811.3,525.4 812.5,522.8 813.0,521.5 814.8,522.1 817.6,523.3 819.5,525.1 822.0,523.9 824.5,521.5 827.4,520.5 828.0,523.6 830.6,525.9 831.4,529.0 832.7,531.4 833.3,534.1 835.6,535.7 837.3,538.2 840.2,539.9 842.3,542.5 845.3,543.1 846.8,545.4 848.5,547.5 850.0,549.9 853.1,551.3 855.8,553.1 858.2,554.6 861.1,553.8 863.9,553.7 864.4,557.0 864.1,561.0 865.0,564.2 867.4,565.6 868.2,564.7 868.9,561.7 868.2,557.9 869.3,554.6 869.7,552.2 872.5,550.6 873.5,552.0 874.0,554.1 873.9,556.9 874.5,560.2 873.9,563.7 874.5,567.2 873.3,570.5 873.7,573.1 874.7,576.2 873.3,579.4 874.2,582.8 873.6,586.2 873.4,589.5 873.8,592.6 873.9,595.3 873.8,597.6 874.7,599.1 874.3,600.8 876.0,599.6 877.7,598.4 877.1,594.8 877.7,591.5 878.9,589.7 881.7,591.2 883.6,593.1 884.1,592.5 884.6,589.9 885.7,586.7 886.3,583.5 885.2,580.5 887.5,577.3 889.1,574.4 893.0,575.5 894.8,577.0 895.0,580.4 897.0,582.2 899.4,580.9 902.5,580.0 905.2,583.3 907.3,586.7 908.9,583.7 911.4,580.6 913.2,578.7 914.7,580.4 914.9,584.1 916.9,587.1 917.5,590.5 919.0,593.5 919.5,596.5 920.3,599.1 919.3,601.8 920.4,604.0 922.3,606.1 924.6,608.1 925.5,610.7 926.5,613.8 928.8,616.0 929.2,617.1 933.2,614.5 934.7,612.1 935.1,608.2 935.3,604.3 937.1,601.7 937.2,599.8 939.0,601.4 940.3,605.1 941.2,609.2 940.2,611.9 941.2,614.9 939.9,617.9 939.5,620.9 939.4,623.9 940.5,626.3 942.8,628.4 944.8,630.7 947.3,632.7 950.3,633.7 952.7,634.7 955.4,635.4 958.1,636.0 960.5,637.5 963.6,636.8 965.6,639.9 969.5,639.1 971.7,641.5 972.3,645.5 975.8,646.0 978.3,647.8 978.5,651.5 981.5,653.0 984.7,653.6 986.6,655.6 988.0,658.2 989.9,660.1 990.8,663.6 994.6,662.3 996.6,665.5 999.2,666.2 1002.3,668.7 1003.5,668.4 1006.7,670.5 1006.8,672.2 1010.6,673.5 1011.8,674.1 1013.6,677.3 1014.9,678.3 1018.7,680.1 1020.4,681.3 1021.9,686.3 1023.7,686.8 1026.5,688.2 1028.1,683.4 1029.3,682.8 1031.5,679.1 1033.5,678.4 1036.4,676.3 1037.6,675.3 1040.2,672.2 1041.5,671.2 1042.8,667.7 1043.9,666.8 1044.6,662.5 1047.8,663.8 1050.7,659.7 1050.7,655.8 1055.2,655.3 1056.6,653.1 1057.4,650.6 1058.5,648.2 1059.0,645.5 1060.2,643.0 1060.8,640.4 1061.2,637.7 1060.3,634.7 1060.2,631.7 1062.9,629.1 1062.8,626.4 1061.5,623.3 1064.5,622.5 1066.6,620.7 1069.1,619.3 1072.4,619.2 1075.3,617.9 1076.9,614.3 1080.2,614.5 1082.2,613.0 1083.8,614.2 1086.0,615.6 1085.8,619.0 1088.9,620.6 1088.4,624.1 1091.6,625.2 1091.1,628.0 1090.9,630.7 1092.4,632.9 1094.2,635.2 1096.0,637.3 1095.2,640.2 1096.3,642.7 1095.6,645.9 1096.6,648.5 1096.7,651.3 1099.6,653.1 1100.6,655.6 1101.1,658.5 1101.4,661.4 1104.9,662.9 1105.5,665.7 1106.8,668.1 1107.1,670.8 1108.1,673.3 1106.5,676.7 1110.3,677.6 1109.4,681.4 1113.4,681.4 1116.2,682.5 1117.5,686.6 1122.1,685.5 1124.0,688.0 1125.7,690.8 1127.4,693.3 1127.7,695.9 1128.5,695.9 1129.0,694.9 1129.6,691.8 1133.3,689.8 1133.5,686.2 1136.1,688.0 1136.7,691.0 1137.2,694.4 1139.6,697.1 1141.0,700.0 1142.3,702.3 1143.1,704.9 1144.1,707.6 1147.8,708.8 1149.4,710.8 1149.0,714.1 1151.2,715.7 1153.2,717.3 1154.8,719.6 1158.3,719.0 1159.3,722.3 1162.0,722.8 1164.2,724.3 1166.7,725.3 1168.8,726.9 1170.4,729.4 1172.6,730.9 1173.9,733.6 1177.5,733.2 1178.6,736.2 1182.1,735.7 1183.1,739.0 1186.2,738.5 1187.6,742.2 1190.8,741.8 1193.4,742.6 1196.1,743.2 1198.6,743.6 1201.3,743.6 1203.9,743.2 1206.4,742.9 1208.9,743.1 1211.6,744.2 1214.3,745.8 1216.9,747.8 1219.3,750.0 1221.0,752.0 1222.6,754.2 1224.2,756.6 1225.7,759.1 1227.3,761.6 1229.1,763.9 1230.9,765.9 1232.9,767.8 1235.0,769.7 1237.1,771.6 1239.1,773.5 1241.0,775.5 1242.7,777.5 1244.3,779.7 1245.7,781.9 1246.9,784.1 1248.1,786.3 1249.3,788.6 1250.4,791.0 1251.5,793.5 1252.5,796.1 1253.4,798.8 1254.3,801.5 1255.2,804.0 1256.2,806.5 1257.3,809.0 1258.4,811.4 1259.5,813.7 1260.7,815.9 1262.1,818.2 1263.6,820.2 1265.3,822.1 1267.1,824.0 1268.9,825.9 1270.5,827.8 1271.8,829.8 1273.1,832.6 1274.0,835.4 1274.8,838.3 1275.6,841.4 1276.3,843.9 1276.9,846.4 1277.5,849.1 1278.1,851.7 1278.8,854.4 1279.5,857.0 1280.3,859.6 1281.1,862.2 1281.9,864.8 1282.8,867.4 1283.6,870.0 1284.4,872.5 1285.2,875.3 1285.9,878.1 1286.7,880.8 1287.4,883.5 1288.2,886.0 1289.1,888.6 1290.0,891.1 1291.0,893.5 1292.1,895.7 1293.5,898.3 1295.1,900.8 1297.0,902.5 1299.7,902.9 1302.8,902.5 1305.7,902.5 1308.7,904.0 1311.5,905.8 1314.4,907.4 1317.3,908.3 1319.5,907.4 1321.7,905.8 1324.1,904.5 1327.4,904.2 1331.0,904.3 1333.8,903.5 1335.2,901.5 1336.0,898.8 1336.7,895.7 1337.2,893.4 1337.7,890.8 1338.1,888.1 1338.5,885.1 1338.8,882.2 1339.2,879.2 1339.6,876.4 1340.0,873.6 1340.4,870.9 1340.9,868.2 1341.3,865.4 1341.7,862.7 1342.1,859.9 1342.5,857.0 1342.8,854.5 1343.2,851.9 1343.5,849.3 1343.8,846.7 1344.2,844.0 1344.5,841.4 1344.8,838.8 1345.1,836.2 1345.4,833.7 1345.7,830.8 1346.0,828.0 1346.3,825.3 1346.6,822.5 1346.9,819.8 1347.1,817.1 1347.4,814.3 1347.7,811.5 1347.9,808.8 1348.2,806.0 1348.5,803.2 1348.8,800.4 1349.0,797.7 1349.3,794.9 1349.6,792.1 1349.9,789.3 1350.2,786.5 1350.5,783.7 1350.8,780.9 1351.0,778.2 1351.3,775.5 1351.5,772.9 1351.8,770.3 1352.0,767.8 1352.2,765.3 1352.3,762.7 1352.5,760.0 1352.6,757.6 1352.7,755.1 1352.8,752.6 1352.8,749.9 1352.9,747.3 1352.9,744.6 1353.0,741.9 1353.1,739.2 1353.2,736.6 1353.4,734.0 1353.5,731.4 1353.7,728.7 1353.9,726.1 1354.2,723.5 1354.4,720.9 1354.6,718.3 1354.9,715.8 1355.1,713.3 1355.4,710.4 1355.7,707.6 1355.9,704.9 1356.2,702.1 1356.5,699.4 1356.8,696.7 1357.1,693.9 1357.4,691.1 1357.7,688.4 1357.9,685.7 1358.2,682.9 1358.5,680.2 1358.7,677.4 1359.0,674.5 1359.2,672.0 1359.4,669.4 1359.7,666.8 1359.9,664.2 1360.1,661.6 1360.3,659.0 1360.6,656.4 1360.8,653.8 1361.0,651.3 1361.3,648.4 1361.5,645.6 1361.8,642.9 1362.1,640.1 1362.4,637.4 1362.6,634.7 1362.9,631.9 1363.2,629.1 1363.4,626.4 1363.7,623.6 1363.9,620.8 1364.2,618.0 1364.5,615.3 1364.8,612.5 1365.2,609.7 1365.5,607.0 1365.9,604.2 1366.3,601.5 1366.8,598.7 1367.2,595.9 1367.7,593.1 1368.1,590.5 1368.6,587.9 1369.1,585.2 1369.6,582.6 1370.1,579.9 1370.6,577.2 1371.1,574.5 1371.6,571.8 1372.0,569.3 1372.5,566.7 1372.9,564.1 1373.4,561.6 1373.8,559.0 1374.2,556.4 1374.6,553.8 1375.1,551.1 1375.5,548.5 1375.9,546.0 1376.3,543.5 1376.7,541.0 1377.1,538.4 1377.5,535.9 1377.9,533.4 1378.3,530.8 1378.6,528.3 1379.0,525.8 1379.4,523.3 1379.8,520.7 1380.2,518.0 1380.6,515.3 1381.0,512.7 1381.4,510.1 1381.8,507.5 1382.2,504.9 1382.6,502.4 1382.9,500.0 1383.3,497.4 1383.6,494.8 1383.9,492.3 1384.2,489.9 1384.5,487.4 1384.9,484.9 1385.2,482.4 1385.6,479.7 1386.0,476.9 1386.4,474.2 1386.8,471.4 1387.3,468.6 1387.7,465.8 1388.1,463.0 1388.5,460.2 1388.9,457.5 1389.3,454.7 1389.8,451.9 1390.2,449.1 1390.6,446.4 1391.0,443.6 1391.4,440.8 1391.8,438.1 1392.2,435.3 1392.6,432.5 1393.0,429.7 1393.4,427.0 1393.9,424.2 1394.4,421.4 1394.9,418.7 1395.5,415.9 1396.1,413.1 1396.7,410.3 1397.2,407.6 1397.8,404.8 1398.4,402.0 1398.9,399.3 1399.5,396.5 1400.0,393.7 1400.6,390.9 1401.1,388.2 1401.7,385.4 1402.3,382.6 1402.8,379.9 1403.4,377.1 1403.9,374.3 1404.5,371.5 1405.0,368.8 1405.6,366.0 1406.1,363.3 1406.7,360.5 1407.2,357.8 1407.8,355.1 1408.3,352.3 1408.9,349.6 1409.4,346.7 1409.8,344.2 1410.3,341.6 1410.7,338.9 1411.2,336.2 1411.6,333.6 1412.0,330.9 1412.5,328.3 1412.9,325.8 1413.3,323.4 1413.8,320.7 1414.3,318.1 1414.7,315.6 1415.8,313.2 1415.4,310.5 1416.6,308.0 1416.4,305.2 1417.0,302.5 1417.4,299.6 1418.3,296.9 1418.5,294.0 1419.8,291.3 1420.2,288.5 1420.6,285.7 1421.4,282.9 1421.4,280.0 1422.1,277.2 1422.7,274.4 1422.8,271.6 1424.5,269.2 1424.2,266.2 1424.8,263.5 1426.3,261.0 1427.0,258.5 1427.2,255.9 1427.8,253.6 1428.4,250.5 1429.1,247.7 1430.5,245.0 1430.8,242.2 1431.3,239.4 1432.8,236.8 1432.7,233.9 1434.6,231.4 1436.9,229.2 1438.6,226.5 1439.0,223.7 1440.7,221.3 1441.5,218.5 1442.4,216.0 1443.5,212.6 1444.4,209.7 1446.9,207.7 1450.2,205.9 1451.8,203.4 1453.5,200.9 1455.2,199.6 1458.3,199.3 1459.2,200.9 1459.9,203.7 1459.1,207.1 1459.8,210.1 1460.4,212.0 1463.5,213.1 1464.1,212.4 1464.3,210.2 1464.9,207.3 1464.7,203.8 1464.6,200.1 1464.8,196.3 1464.4,192.8 1464.7,189.8 1465.2,187.6 1465.6,186.5 1468.0,186.6 1468.2,187.6 1468.8,189.5 1468.9,192.2 1469.4,195.3 1469.2,198.6 1469.0,201.8 1468.9,204.8 1468.7,207.3 1470.0,208.7 1472.5,212.0 1473.0,211.4 1473.5,210.0 1473.9,208.0 1474.1,205.5 1474.4,202.6 1474.5,199.3 1474.7,195.8 1474.9,192.2 1475.0,188.5 1475.2,185.0 1475.3,183.1 1475.4,181.0 1475.5,178.6 1475.6,176.1 1475.6,173.5 1475.7,170.7 1475.8,167.7 1475.8,164.7 1475.9,161.5 1476.0,158.3 1476.0,155.0 1476.1,151.7 1476.1,148.3 1476.1,144.9 1476.2,141.5 1476.2,138.2 1476.2,134.8 1476.3,131.6 1476.3,128.4 1476.3,125.3 1476.3,122.2 1476.3,119.4 1476.4,116.6 1476.4,114.0 1476.4,111.6 1476.4,109.3 1476.4,107.3 1476.4,105.4 1476.4,103.8 1476.4,102.5 1476.4,101.4 1476.4,100.6 1476.4,100.2 1476.4,100.0"/>
</g>
<g fill="#000" shape-rendering="crispEdges">
<rect x="777.0" y="437.0" width="32.0" height="8.0"/>
<rect x="825.1" y="437.0" width="11.0" height="8.0"/>
<rect x="852.0" y="437.0" width="11.0" height="8.0"/>
<rect x="879.0" y="437.0" width="32.0" height="8.0"/>
<rect x="927.1" y="437.0" width="11.0" height="8.0"/>
<rect x="941.1" y="450.4" width="7.0" height="11.7"/>
<rect x="941.1" y="477.8" width="7.0" height="32.7"/>
<rect x="941.1" y="525.9" width="7.0" height="11.7"/>
<rect x="941.1" y="553.4" width="7.0" height="11.7"/>
<rect x="941.1" y="580.7" width="7.0" height="32.7"/>
<rect x="941.1" y="628.8" width="7.0" height="11.7"/>
<rect x="941.1" y="656.3" width="7.0" height="11.7"/>
<rect x="941.1" y="683.7" width="7.0" height="32.7"/>
<rect x="941.1" y="731.8" width="7.0" height="11.7"/>
<rect x="941.1" y="759.3" width="7.0" height="11.7"/>
<rect x="941.1" y="786.6" width="7.0" height="32.7"/>
<rect x="941.1" y="834.7" width="7.0" height="11.7"/>
<rect x="941.1" y="862.2" width="7.0" height="11.7"/>
<rect x="941.1" y="889.6" width="7.0" height="32.7"/>
<rect x="941.1" y="937.7" width="7.0" height="11.7"/>
<rect x="941.1" y="965.2" width="7.0" height="11.7"/>
<rect x="941.1" y="992.5" width="7.0" height="32.7"/>
<rect x="941.1" y="1040.6" width="7.0" height="11.7"/>
<rect x="941.1" y="1068.1" width="7.0" height="11.7"/>
<rect x="941.1" y="1095.5" width="7.0" height="32.7"/>
<rect x="941.1" y="1143.6" width="7.0" height="11.7"/>
<rect x="941.1" y="1171.1" width="7.0" height="11.7"/>
<rect x="941.1" y="1198.4" width="7.0" height="32.7"/>
<rect x="941.1" y="1246.5" width="7.0" height="11.7"/>
<rect x="941.1" y="1274.0" width="7.0" height="11.7"/>
<rect x="941.1" y="1301.4" width="7.0" height="32.7"/>
<rect x="941.1" y="1349.5" width="7.0" height="11.7"/>
<rect x="941.1" y="1377.0" width="7.0" height="11.7"/>
<rect x="941.1" y="1404.3" width="7.0" height="32.7"/>
<rect x="941.1" y="1452.4" width="7.0" height="11.7"/>
<rect x="941.1" y="1479.9" width="7.0" height="11.7"/>
<rect x="941.1" y="1507.3" width="7.0" height="24.4"/>
<rect x="933.4" y="1524.2" width="14.7" height="8.0"/>
<rect x="906.3" y="1524.2" width="11.0" height="8.0"/>
<rect x="879.4" y="1524.2" width="11.0" height="8.0"/>
<rect x="831.4" y="1524.2" width="32.0" height="8.0"/>
<rect x="804.3" y="1524.2" width="11.0" height="8.0"/>
<rect x="777.4" y="1524.2" width="11.0" height="8.0"/>
<rect x="777.0" y="437.5" width="7.0" height="32.7"/>
<rect x="777.0" y="485.6" width="7.0" height="11.7"/>
<rect x="777.0" y="513.1" width="7.0" height="11.7"/>
<rect x="777.0" y="540.5" width="7.0" height="32.7"/>
<rect x="777.0" y="588.5" width="7.0" height="11.7"/>
<rect x="777.0" y="616.0" width="7.0" height="11.7"/>
<rect x="777.0" y="643.4" width="7.0" height="32.7"/>
<rect x="777.0" y="691.5" width="7.0" height="11.7"/>
<rect x="777.0" y="719.0" width="7.0" height="11.7"/>
<rect x="777.0" y="746.4" width="7.0" height="32.7"/>
<rect x="777.0" y="794.5" width="7.0" height="11.7"/>
<rect x="777.0" y="822.0" width="7.0" height="11.7"/>
<rect x="777.0" y="849.3" width="7.0" height="32.7"/>
<rect x="777.0" y="897.4" width="7.0" height="11.7"/>
<rect x="777.0" y="924.9" width="7.0" height="11.7"/>
<rect x="777.0" y="952.2" width="7.0" height="32.7"/>
<rect x="777.0" y="1000.4" width="7.0" height="11.7"/>
<rect x="777.0" y="1027.8" width="7.0" height="11.7"/>
<rect x="777.0" y="1055.2" width="7.0" height="32.7"/>
<rect x="777.0" y="1103.3" width="7.0" height="11.7"/>
<rect x="777.0" y="1130.8" width="7.0" height="11.7"/>
<rect x="777.0" y="1158.2" width="7.0" height="32.7"/>
<rect x="777.0" y="1206.2" width="7.0" height="11.7"/>
<rect x="777.0" y="1233.8" width="7.0" height="11.7"/>
<rect x="777.0" y="1261.1" width="7.0" height="32.7"/>
<rect x="777.0" y="1309.2" width="7.0" height="11.7"/>
<rect x="777.0" y="1336.7" width="7.0" height="11.7"/>
<rect x="777.0" y="1364.1" width="7.0" height="32.7"/>
<rect x="777.0" y="1412.2" width="7.0" height="11.7"/>
<rect x="777.0" y="1439.7" width="7.0" height="11.7"/>
<rect x="777.0" y="1467.0" width="7.0" height="32.7"/>
<rect x="777.0" y="1515.1" width="7.0" height="11.7"/>
<rect x="1231.1" y="638.5" width="32.0" height="8.0"/>
<rect x="1279.2" y="638.5" width="11.0" height="8.0"/>
<rect x="1306.1" y="638.5" width="11.0" height="8.0"/>
<rect x="1333.1" y="638.5" width="12.4" height="8.0"/>
<rect x="1338.5" y="639.0" width="7.0" height="27.2"/>
<rect x="1338.5" y="681.6" width="7.0" height="11.7"/>
<rect x="1338.5" y="709.1" width="7.0" height="11.7"/>
<rect x="1338.5" y="736.5" width="7.0" height="32.7"/>
<rect x="1338.5" y="784.6" width="7.0" height="11.7"/>
<rect x="1338.5" y="812.1" width="7.0" height="11.7"/>
<rect x="1338.5" y="839.4" width="7.0" height="32.7"/>
<rect x="1338.5" y="887.5" width="7.0" height="11.7"/>
<rect x="1338.5" y="915.0" width="7.0" height="11.7"/>
<rect x="1338.5" y="942.4" width="7.0" height="32.7"/>
<rect x="1338.5" y="990.5" width="7.0" height="11.7"/>
<rect x="1338.5" y="1018.0" width="7.0" height="11.7"/>
<rect x="1338.5" y="1045.3" width="7.0" height="32.7"/>
<rect x="1338.5" y="1093.4" width="7.0" height="11.7"/>
<rect x="1338.5" y="1120.9" width="7.0" height="11.7"/>
<rect x="1338.5" y="1148.3" width="7.0" height="32.7"/>
<rect x="1338.5" y="1196.4" width="7.0" height="11.7"/>
<rect x="1338.5" y="1223.9" width="7.0" height="11.7"/>
<rect x="1338.5" y="1251.2" width="7.0" height="32.7"/>
<rect x="1338.5" y="1299.3" width="7.0" height="11.7"/>
<rect x="1338.5" y="1326.8" width="7.0" height="11.7"/>
<rect x="1338.5" y="1354.2" width="7.0" height="32.7"/>
<rect x="1338.5" y="1402.3" width="7.0" height="11.7"/>
<rect x="1338.5" y="1429.8" width="7.0" height="11.7"/>
<rect x="1338.5" y="1457.1" width="7.0" height="32.7"/>
<rect x="1338.5" y="1505.2" width="7.0" height="11.7"/>
<rect x="1338.5" y="1532.7" width="7.0" height="11.7"/>
<rect x="1338.5" y="1560.1" width="7.0" height="32.7"/>
<rect x="1338.5" y="1608.2" width="7.0" height="11.7"/>
<rect x="1338.5" y="1635.7" width="7.0" height="11.7"/>
<rect x="1338.5" y="1663.0" width="7.0" height="32.7"/>
<rect x="1338.5" y="1711.1" width="7.0" height="11.7"/>
<rect x="1321.4" y="1725.0" width="11.0" height="8.0"/>
<rect x="1273.4" y="1725.0" width="32.0" height="8.0"/>
<rect x="1246.3" y="1725.0" width="11.0" height="8.0"/>
<rect x="1231.1" y="639.0" width="7.0" height="32.7"/>
<rect x="1231.1" y="687.1" width="7.0" height="11.7"/>
<rect x="1231.1" y="714.6" width="7.0" height="11.7"/>
<rect x="1231.1" y="742.0" width="7.0" height="32.7"/>
<rect x="1231.1" y="790.0" width="7.0" height="11.7"/>
<rect x="1231.1" y="817.5" width="7.0" height="11.7"/>
<rect x="1231.1" y="844.9" width="7.0" height="32.7"/>
<rect x="1231.1" y="893.0" width="7.0" height="11.7"/>
<rect x="1231.1" y="920.5" width="7.0" height="11.7"/>
<rect x="1231.1" y="947.9" width="7.0" height="32.7"/>
<rect x="1231.1" y="996.0" width="7.0" height="11.7"/>
<rect x="1231.1" y="1023.5" width="7.0" height="11.7"/>
<rect x="1231.1" y="1050.8" width="7.0" height="32.7"/>
<rect x="1231.1" y="1098.9" width="7.0" height="11.7"/>
<rect x="1231.1" y="1126.4" width="7.0" height="11.7"/>
<rect x="1231.1" y="1153.8" width="7.0" height="32.7"/>
<rect x="1231.1" y="1201.8" width="7.0" height="11.7"/>
<rect x="1231.1" y="1229.3" width="7.0" height="11.7"/>
<rect x="1231.1" y="1256.7" width="7.0" height="32.7"/>
<rect x="1231.1" y="1304.8" width="7.0" height="11.7"/>
<rect x="1231.1" y="1332.3" width="7.0" height="11.7"/>
<rect x="1231.1" y="1359.7" width="7.0" height="32.7"/>
<rect x="1231.1" y="1407.8" width="7.0" height="11.7"/>
<rect x="1231.1" y="1435.2" width="7.0" height="11.7"/>
<rect x="1231.1" y="1462.6" width="7.0" height="32.7"/>
<rect x="1231.1" y="1510.7" width="7.0" height="11.7"/>
<rect x="1231.1" y="1538.2" width="7.0" height="11.7"/>
<rect x="1231.1" y="1565.6" width="7.0" height="32.7"/>
<rect x="1231.1" y="1613.7" width="7.0" height="11.7"/>
<rect x="1231.1" y="1641.2" width="7.0" height="11.7"/>
<rect x="1231.1" y="1668.5" width="7.0" height="32.7"/>
<rect x="1231.1" y="1716.6" width="7.0" height="11.7"/>
</g>
<path class="dd" d="M303 634.4 L308.6 1614.6"/>
<text class="sans" y="1703.7" font-size="57.5" letter-spacing="0.3"><tspan x="265.3" y="1703.7">3700 </tspan><tspan x="408.0" y="1703.7">cm</tspan><tspan x="484.5" y="1666.4">-1</tspan></text>
<text class="sans" y="1624.7" font-size="57.5" letter-spacing="0.3"><tspan x="703" y="1624.7">2200-2300 cm</tspan><tspan x="1074.2" y="1587.4">-1</tspan></text>
<text class="sans" y="1800.5" font-size="57.5" letter-spacing="0.3"><tspan x="1072.7" y="1800.5">850-1100 cm</tspan><tspan x="1411.5" y="1763.2">-1</tspan></text>
<g fill="#000" shape-rendering="crispEdges">
<rect x="203" y="113" width="1276" height="8"/>
<rect x="1472" y="113" width="7" height="1853"/>
<rect x="293" y="1945" width="8" height="15"/>
<rect x="474" y="1945" width="8" height="15"/>
<rect x="656" y="1945" width="8" height="15"/>
<rect x="837" y="1945" width="8" height="15"/>
<rect x="1018" y="1945" width="8" height="15"/>
<rect x="1200" y="1945" width="8" height="15"/>
<rect x="1381" y="1945" width="8" height="15"/>
<rect x="384" y="1928" width="7" height="32"/>
<rect x="566" y="1928" width="7" height="32"/>
<rect x="747" y="1928" width="7" height="32"/>
<rect x="928" y="1928" width="7" height="32"/>
<rect x="1109" y="1928" width="7" height="32"/>
<rect x="1291" y="1928" width="7" height="32"/>
</g>
<g class="serif" font-size="74.2" text-anchor="middle" transform="translate(0,2077.8) scale(1,1.07)">
<text x="198.7" y="0">4000</text>
<text x="379.1" y="0">3500</text>
<text x="560.4" y="0">3000</text>
<text x="741.6" y="0">2500</text>
<text x="922.9" y="0">2000</text>
<text x="1106.0" y="0">1500</text>
<text x="1287.2" y="0">1000</text>
<text x="1466.8" y="0">500</text>
</g>
<g class="serif" transform="translate(0,2194.4) scale(1,1.02)">
<text y="0" font-size="82.7"><tspan x="458.8" y="0">Wavenumber </tspan><tspan x="959.8" y="0" font-size="86.5">(</tspan><tspan x="989" y="0" font-size="82">cm</tspan><tspan x="1093" y="-32.5" font-size="83.3">-1</tspan><tspan x="1161.5" y="0" font-size="119.5">)</tspan></text>
</g>
<text class="serif" transform="translate(104.3,1384.5) rotate(-90)" font-size="83.3" textLength="692" lengthAdjust="spacing">Transmitance (a.u.)</text>
</svg>
</body></html>
